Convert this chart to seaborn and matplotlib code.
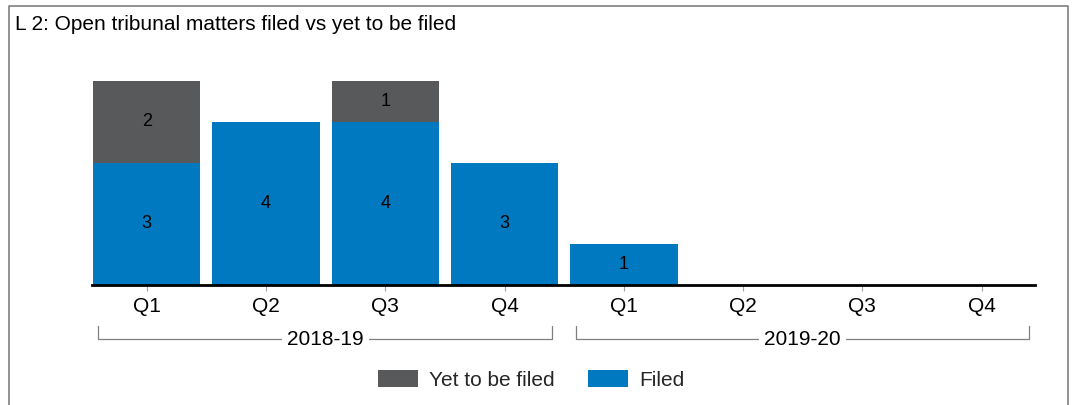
import numpy as np
import pandas as pd
import matplotlib
matplotlib.use("Agg")
import matplotlib.pyplot as plt
from matplotlib.patches import Patch
from matplotlib.lines import Line2D
import seaborn as sns

# Quarterly counts of open tribunal matters
years = ["2018-19", "2019-20"]
quarters = ["Q1", "Q2", "Q3", "Q4"]
filed = [3, 4, 4, 3, 1, 0, 0, 0]
yet_to_be_filed = [2, 0, 1, 0, 0, 0, 0, 0]

BLUE = "#0079C1"
GREY = "#58595B"
FS = 15

sns.set_theme(style="white")
plt.rcParams["font.family"] = ["Liberation Sans", "DejaVu Sans"]

keys = [f"{y} {q}" for y in years for q in quarters]
df = pd.DataFrame({
    "period": keys,
    "filed": filed,
    "yet": yet_to_be_filed,
})
df["total"] = df["filed"] + df["yet"]

W, H = 1072, 405
fig = plt.figure(figsize=(W / 100, H / 100), dpi=100)

ax_l, ax_r = 91.8, 1035.4
ax_b, ax_t = 285, 81
ax = fig.add_axes([ax_l / W, (H - ax_b) / H, (ax_r - ax_l) / W, (ax_b - ax_t) / H])

# stacked bars: total in grey underneath, filed in blue over it
sns.barplot(data=df, x="period", y="total", order=keys, color=GREY,
            saturation=1, width=0.9, ax=ax, linewidth=0)
sns.barplot(data=df, x="period", y="filed", order=keys, color=BLUE,
            saturation=1, width=0.9, ax=ax, linewidth=0)

ax.set_xlim(-0.46, 7.45)
ax.set_ylim(0, 5)
ax.set_xlabel("")
ax.set_ylabel("")
ax.set_yticks([])
ax.set_xticks(range(len(keys)))
ax.set_xticklabels(quarters * len(years), fontsize=FS, color="black")
ax.tick_params(axis="x", length=4, width=0.8, color="#a0a0a0", pad=5, bottom=True)
for side in ["top", "right", "left"]:
    ax.spines[side].set_visible(False)
ax.spines["bottom"].set_color("black")
ax.spines["bottom"].set_linewidth(2.0)
ax.spines["bottom"].set_zorder(5)

# segment value labels
for i, (f, y) in enumerate(zip(filed, yet_to_be_filed)):
    if f > 0:
        ax.text(i, f / 2, str(f), ha="center", va="center", fontsize=13, color="black")
    if y > 0:
        ax.text(i, f + y / 2, str(y), ha="center", va="center", fontsize=13, color="black")

# year brackets below the quarter labels
def px(x, y):
    return x / W, (H - y) / H

brackets = [(98.3, 551.7, years[0]), (575.7, 1029.0, years[1])]
for x0, x1, label in brackets:
    yb, yt = 339.3, 326
    xc = (x0 + x1) / 2
    half_gap = 44
    for seg in [((x0, yt), (x0, yb), (xc - half_gap, yb)),
                ((xc + half_gap, yb), (x1, yb), (x1, yt))]:
        xs = [px(*p)[0] for p in seg]
        ys = [px(*p)[1] for p in seg]
        fig.add_artist(Line2D(xs, ys, color="#808080", lw=0.9))
    fig.text(*px(xc, 339.3), label, ha="center", va="center", fontsize=FS, color="black")

# title
fig.text(*px(15, 25), "L 2: Open tribunal matters filed vs yet to be filed",
         ha="left", va="center", fontsize=FS, color="black")

# outer frame (open at the bottom)
fx = [px(8.5, 410)[0], px(8.5, 5.5)[0], px(1067.5, 5.5)[0], px(1067.5, 410)[0]]
fy = [px(8.5, 410)[1], px(8.5, 5.5)[1], px(1067.5, 5.5)[1], px(1067.5, 410)[1]]
fig.add_artist(Line2D(fx, fy, color="#7f7f7f", lw=1.2))

handles = [Patch(facecolor=GREY, edgecolor="none", label="Yet to be filed"),
           Patch(facecolor=BLUE, edgecolor="none", label="Filed")]
fig.legend(handles=handles, loc="center", bbox_to_anchor=px(531, 380), ncol=2,
           frameon=False, fontsize=FS, handlelength=1.95, handleheight=0.85,
           handletextpad=0.5, columnspacing=1.6, borderaxespad=0, borderpad=0)

fig.savefig("out.png", dpi=100)
